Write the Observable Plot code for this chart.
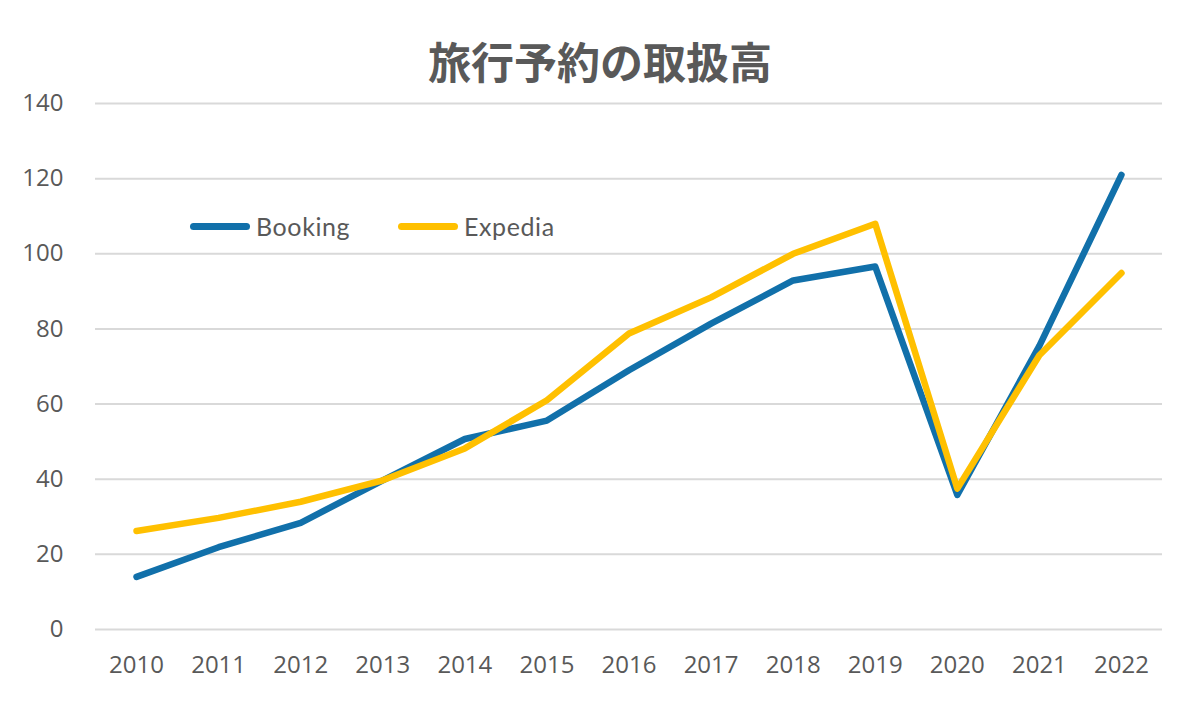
<!DOCTYPE html>
<html>
<head>
<meta charset="utf-8">
<script src="https://cdn.jsdelivr.net/npm/d3@7"></script>
<script src="https://cdn.jsdelivr.net/npm/@observablehq/plot@0.6"></script>
<style>
  html, body { margin: 0; padding: 0; background: #fff; }
  #wrap { position: relative; width: 1200px; height: 704px; overflow: hidden; }
  #title { position: absolute; left: 0; width: 1200px; top: 31px; text-align: center;
    font-family: "Noto Sans CJK JP", sans-serif; font-weight: bold; font-size: 43px; color: #595959; line-height: 58px; }
  .leg { position: absolute; top: 211px; height: 30px; display: flex; align-items: center;
    font-family: "Lato", "Open Sans", sans-serif; font-size: 25px; letter-spacing: 0.6px; color: #595959; }
  .leg .sw { width: 60px; height: 7px; border-radius: 4px; margin-right: 6px; }
</style>
</head>
<body>
<div id="wrap">
  <div id="title">旅行予約の取扱高</div>
</div>
<script>
const years = [2010, 2011, 2012, 2013, 2014, 2015, 2016, 2017, 2018, 2019, 2020, 2021, 2022];
const booking = [14.0, 21.9, 28.4, 39.7, 50.7, 55.6, 69.0, 81.4, 92.9, 96.6, 35.8, 75.5, 121.0];
const expedia = [26.2, 29.7, 34.0, 39.7, 48.2, 61.0, 78.8, 88.4, 100.0, 108.0, 37.5, 73.0, 94.9];
const seriesNames = ["Booking", "Expedia"];
const seriesColors = ["#1170aa", "#ffc000"];
const yTicks = [0, 20, 40, 60, 80, 100, 120, 140];

const rows = [];
years.forEach((yr, i) => {
  rows.push({year: yr, value: booking[i], series: seriesNames[0]});
  rows.push({year: yr, value: expedia[i], series: seriesNames[1]});
});

const chart = Plot.plot({
  width: 1200,
  height: 704,
  marginTop: 103,
  marginBottom: 75,
  marginLeft: 95,
  marginRight: 38,
  style: {fontFamily: "'Open Sans', sans-serif", background: "transparent"},
  x: {domain: [years[0] - 0.5, years[years.length - 1] + 0.5], ticks: years, tickFormat: d => String(d), tickSize: 0, tickPadding: 30, label: null},
  y: {domain: [0, 140], ticks: yTicks, tickSize: 0, tickPadding: 30, label: null},
  color: {domain: seriesNames, range: seriesColors},
  marks: [
    Plot.gridY(yTicks, {stroke: "#d9d9d9", strokeOpacity: 1, strokeWidth: 2}),
    Plot.axisY({ticks: yTicks, tickSize: 0, tickPadding: 32, fontSize: 24, fill: "#595959", label: null}),
    Plot.axisX({ticks: years, tickFormat: d => String(d), tickSize: 0, tickPadding: 26, fontSize: 24, fill: "#595959", label: null}),
    Plot.line(rows, {x: "year", y: "value", z: "series", stroke: "series", strokeWidth: 6.5, strokeLinejoin: "round", strokeLinecap: "round"})
  ]
});
const wrap = document.getElementById("wrap");
chart.style.position = "absolute";
chart.style.left = "0";
chart.style.top = "0";
wrap.appendChild(chart);

const legLefts = [190, 398];
seriesNames.forEach((name, i) => {
  const d = document.createElement("div");
  d.className = "leg";
  d.style.left = legLefts[i] + "px";
  const sw = document.createElement("div");
  sw.className = "sw";
  sw.style.background = seriesColors[i];
  const t = document.createElement("span");
  t.textContent = name;
  d.appendChild(sw);
  d.appendChild(t);
  wrap.appendChild(d);
});
</script>
</body>
</html>
